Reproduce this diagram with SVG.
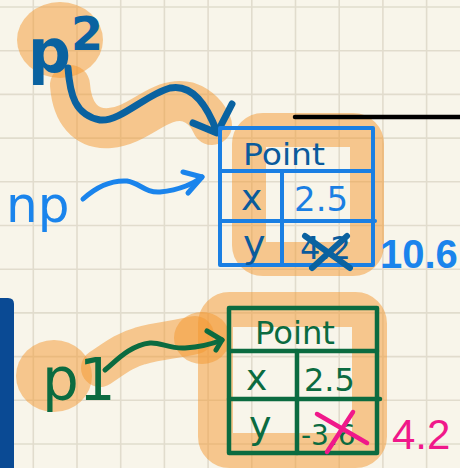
<svg xmlns="http://www.w3.org/2000/svg" width="460" height="468" viewBox="0 0 460 468">
<defs>
<style>
.grid line{stroke:#e1dccd;stroke-width:1.6}
.hl{fill:none;stroke:#f4972f;stroke-opacity:.5;stroke-linecap:round;stroke-linejoin:round}
.blob{fill:#f4972f;fill-opacity:.5}
.ink{fill:none;stroke-linecap:round;stroke-linejoin:round}
.t{font-family:"DejaVu Sans","Liberation Sans",sans-serif}
.n{font-family:"Liberation Sans",Arial,sans-serif}
.blue{stroke:#1a7fe3}
.dblue{stroke:#0a62a0}
.green{stroke:#0b6b40}
</style>
</defs>
<rect width="460" height="468" fill="#f8f5ea"/>
<g class="grid">
<line x1="33.3" y1="0" x2="33.3" y2="468"/><line x1="77" y1="0" x2="77" y2="468"/><line x1="120.7" y1="0" x2="120.7" y2="468"/><line x1="164.4" y1="0" x2="164.4" y2="468"/><line x1="208.1" y1="0" x2="208.1" y2="468"/><line x1="251.8" y1="0" x2="251.8" y2="468"/><line x1="295.5" y1="0" x2="295.5" y2="468"/><line x1="339.2" y1="0" x2="339.2" y2="468"/><line x1="382.9" y1="0" x2="382.9" y2="468"/><line x1="426.6" y1="0" x2="426.6" y2="468"/>
<line x1="0" y1="7" x2="460" y2="7"/><line x1="0" y1="50.7" x2="460" y2="50.7"/><line x1="0" y1="94.4" x2="460" y2="94.4"/><line x1="0" y1="138.1" x2="460" y2="138.1"/><line x1="0" y1="181.8" x2="460" y2="181.8"/><line x1="0" y1="225.5" x2="460" y2="225.5"/><line x1="0" y1="269.2" x2="460" y2="269.2"/><line x1="0" y1="312.9" x2="460" y2="312.9"/><line x1="0" y1="356.6" x2="460" y2="356.6"/><line x1="0" y1="400.3" x2="460" y2="400.3"/><line x1="0" y1="444" x2="460" y2="444"/>
</g>
<path d="M0 298 H8 Q14 298 14 304 V468 H0 Z" fill="#0a4a94"/>
<g id="highlights">
<ellipse class="blob" cx="60" cy="40" rx="43" ry="38"/>
<path class="hl" stroke-width="40" d="M70 85 C72 112 85 130 110 128 C140 126 160 95 188 102 C200 106 208 115 212 125"/>
<rect class="hl" x="249" y="130" width="118" height="129" rx="14" stroke-width="34"/>
<ellipse class="blob" cx="54" cy="376" rx="38" ry="36"/>
<path class="hl" stroke-width="38" d="M100 368 C115 358 125 350 140 346 C160 340 175 340 195 335"/>
<ellipse class="blob" cx="202" cy="338" rx="28" ry="26"/>
<rect class="hl" x="215.5" y="309.5" width="154" height="141" rx="14" stroke-width="35"/>
</g>
<line x1="295" y1="117" x2="460" y2="117" stroke="#000" stroke-width="4.5" stroke-linecap="round"/>
<g id="connectors">
<path class="ink dblue" stroke-width="7" d="M68 68 C70 95 75 115 100 120 C120 122 145 95 170 88 C190 84 205 100 217 132"/>
<path class="ink dblue" stroke-width="7" d="M193 123 L217 133 L232 104"/>
<path class="ink" stroke="#1a84ec" stroke-width="5" d="M83 199 C95 188 110 180 127 181 C140 183 145 193 160 192 C180 190 195 183 202 177"/>
<path class="ink" stroke="#1a84ec" stroke-width="5" d="M183 172 L202 177 L188 193"/>
<path class="ink green" stroke-width="5" d="M105 370 C115 362 130 345 150 343 C160 342 170 349 185 348 C200 347 212 344 222 340"/>
<path class="ink green" stroke-width="5" d="M207 331 L222 340 L216 350"/>
</g>
<g id="p2">
<text class="t" x="28" y="72" font-size="60" font-weight="bold" fill="#0a62a0">p<tspan font-size="46" dy="-22">2</tspan></text>
</g>
<g id="np">
<text class="t" x="6" y="222" font-size="50" fill="#1a84ec">np</text>
</g>
<g id="p1">
<text class="t" x="42" y="400" font-size="58" fill="#0b6b40">p1</text>
</g>
<g id="np-point">
<rect class="ink blue" x="220" y="128" width="153" height="137" stroke-width="4"/>
<line class="ink blue" x1="220" y1="171" x2="373" y2="171" stroke-width="4"/>
<line class="ink blue" x1="220" y1="221" x2="375" y2="221" stroke-width="4"/>
<line class="ink blue" x1="282" y1="171" x2="282" y2="265" stroke-width="4"/>
<text class="t" x="243" y="165" font-size="30" textLength="82" lengthAdjust="spacingAndGlyphs" fill="#0a5b9c">Point</text>
<text class="t" x="241" y="210" font-size="36" fill="#0a5b9c">x</text>
<text class="t" x="294" y="211" font-size="34" fill="#1a7fe3">2.5</text>
<text class="t" x="243" y="257" font-size="38" fill="#0a5b9c">y</text>
<text class="t" x="300" y="259" font-size="32" fill="#0a5b9c">4.2</text>
<path class="ink dblue" stroke-width="6" d="M305 236 L350 268 M347 236 L312 268"/>
<text class="n" x="380" y="268" font-size="40" font-weight="bold" fill="#1a84ec">10.6</text>
</g>
<g id="p1-point">
<rect class="ink green" x="229" y="308" width="148" height="145" stroke-width="4.5"/>
<line class="ink green" x1="229" y1="351" x2="377" y2="351" stroke-width="4.5"/>
<line class="ink green" x1="229" y1="399" x2="380" y2="399" stroke-width="4.5"/>
<line class="ink green" x1="297" y1="351" x2="297" y2="453" stroke-width="4.5"/>
<text class="t" x="255" y="344" font-size="32" textLength="80" lengthAdjust="spacingAndGlyphs" fill="#0b6b40">Point</text>
<text class="t" x="246" y="390" font-size="36" fill="#0b6b40">x</text>
<text class="t" x="304" y="391" font-size="32" fill="#0b6b40">2.5</text>
<text class="t" x="249" y="438" font-size="38" fill="#0b6b40">y</text>
<text class="t" x="301" y="445" font-size="28" fill="#0b6b40">-3.6</text>
<path class="ink" stroke="#f0188a" stroke-width="4.5" d="M317 414 L367 443 M353 412 L327 452"/>
<text class="n" x="392" y="449" font-size="42" fill="#f0188a">4.2</text>
</g>
</svg>
